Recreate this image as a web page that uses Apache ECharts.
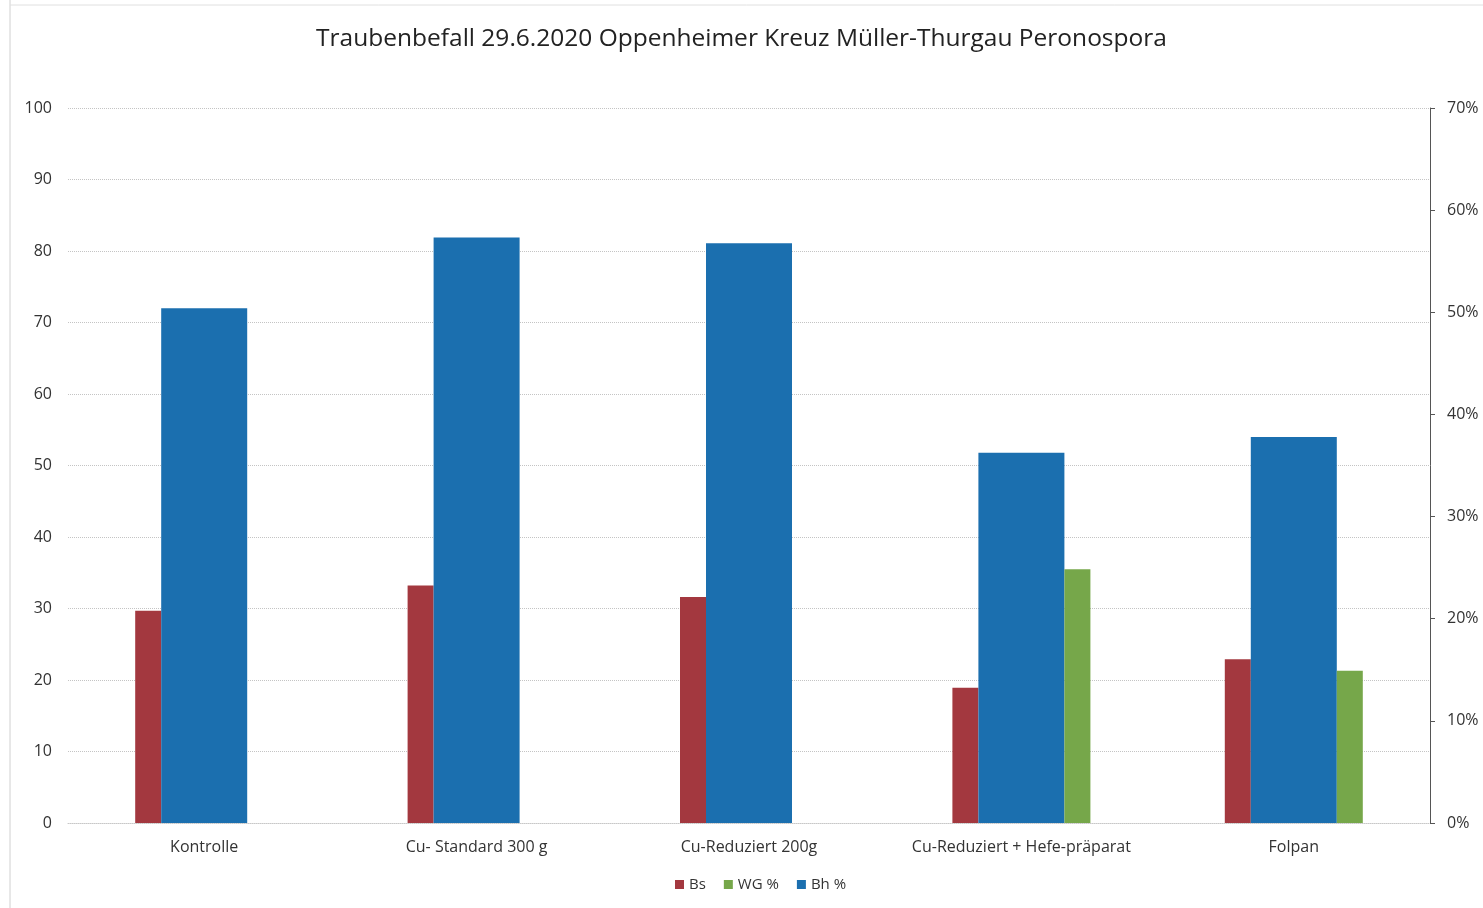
<!DOCTYPE html>
<html>
<head>
<meta charset="utf-8">
<script src="https://cdn.jsdelivr.net/npm/echarts@6/dist/echarts.min.js"></script>
<style>
  html, body { margin: 0; padding: 0; background: #fff; }
  #chart { width: 1483px; height: 908px; }
</style>
</head>
<body>
<div id="chart"></div>
<script>
// Kategorien und Werte
const kategorien = ['Kontrolle', 'Cu- Standard 300 g', 'Cu-Reduziert 200g', 'Cu-Reduziert + Hefe-präparat', 'Folpan'];
const bsWerte = [29.7, 33.2, 31.6, 18.9, 22.9];
const bhWerte = [72.0, 81.9, 81.1, 51.8, 54.0];
const wgWerte = [0, 0, 0, 35.5, 21.3];

const myChart = echarts.init(document.getElementById('chart'));
const schrift = '"Open Sans", "Noto Sans", sans-serif';

const option = {
    animation: false,
    title: {
        text: 'Traubenbefall 29.6.2020 Oppenheimer Kreuz Müller-Thurgau Peronospora',
        left: 'center',
        top: 22,
        textStyle: { fontFamily: schrift, fontSize: 24.5, fontWeight: 'normal', color: '#222' }
    },
    legend: {
        bottom: 11,
        left: 670,
        itemWidth: 9,
        itemHeight: 9,
        itemGap: 18,
        icon: 'rect',
        textStyle: { fontFamily: schrift, fontSize: 15, color: '#333' },
        data: ['Bs', 'WG %', 'Bh %']
    },
    grid: { left: 68, right: 53, top: 108, bottom: 85 },
    xAxis: {
        type: 'category',
        data: kategorien,
        axisTick: { show: false },
        axisLine: { lineStyle: { color: '#c8c8c8', type: 'dotted' } },
        axisLabel: { interval: 0, margin: 16, fontFamily: schrift, fontSize: 16, color: '#333' }
    },
    yAxis: [{
        type: 'value',
        min: 0,
        max: 100,
        interval: 10,
        axisLine: { show: false },
        axisTick: { show: false },
        splitLine: { lineStyle: { color: '#c4c4c4', type: 'dotted' } },
        axisLabel: { margin: 16, fontFamily: schrift, fontSize: 16, color: '#333' }
    }, {
        type: 'value',
        min: 0,
        max: 0.7,
        interval: 0.1,
        position: 'right',
        axisLine: { show: true, lineStyle: { color: '#555' } },
        axisTick: { show: true, length: 5, lineStyle: { color: '#555' } },
        splitLine: { show: false },
        axisLabel: {
            margin: 17,
            fontFamily: schrift, fontSize: 16, color: '#333',
            formatter: v => Math.round(v * 100) + '%'
        }
    }],
    series: [
        {
            name: 'Bs',
            type: 'bar',
            barWidth: 26,
            barGap: '0%',
            itemStyle: { color: '#A3383F' },
            data: bsWerte
        },
        {
            name: 'Bh %',
            type: 'bar',
            barWidth: 86,
            barGap: '0%',
            itemStyle: { color: '#1B6FAF' },
            data: bhWerte
        },
        {
            name: 'WG %',
            type: 'bar',
            barWidth: 26,
            barGap: '0%',
            itemStyle: { color: '#76A74A' },
            data: wgWerte
        }
    ],
    graphic: [
        { type: 'line', shape: { x1: 10, y1: 0, x2: 10, y2: 908 }, style: { stroke: '#d0d0d0', lineWidth: 1 } },
        { type: 'line', shape: { x1: 10, y1: 5, x2: 1483, y2: 5 }, style: { stroke: '#e0e0e0', lineWidth: 1 } }
    ]
};
myChart.setOption(option);
</script>
</body>
</html>
